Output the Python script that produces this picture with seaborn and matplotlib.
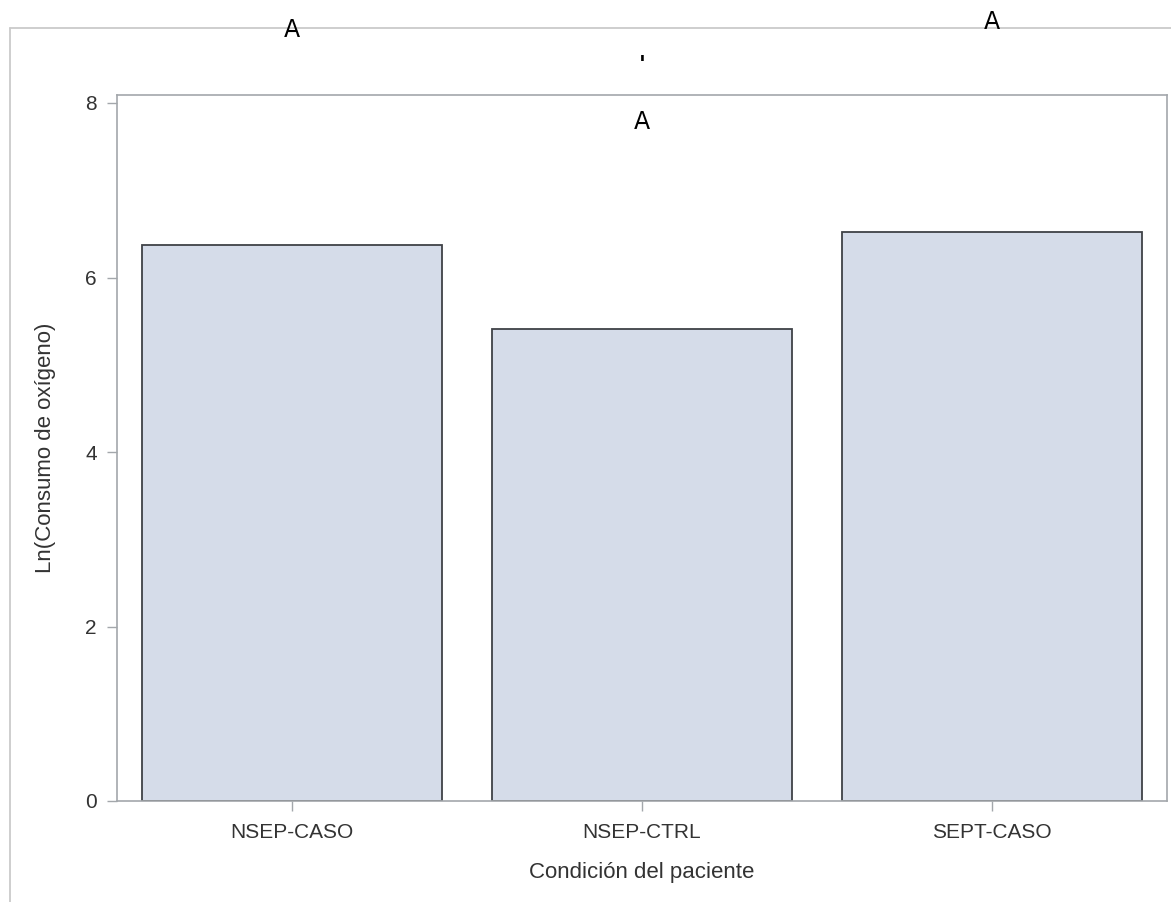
import matplotlib
matplotlib.use("Agg")
import matplotlib.pyplot as plt
from matplotlib.lines import Line2D
import seaborn as sns
import pandas as pd

# Data
condiciones = ["NSEP-CASO", "NSEP-CTRL", "SEPT-CASO"]
ln_consumo = [6.37, 5.41, 6.52]

# group letters placed above the bars
letras = ["A", "A", "A"]
letras_y = [8.84, 7.78, 8.93]
marca_y = 8.44

df = pd.DataFrame({"cond": condiciones, "valor": ln_consumo})

sns.set_style("white")
plt.rcParams["font.family"] = ["Liberation Sans", "DejaVu Sans"]

fig = plt.figure(figsize=(11.71, 9.02), dpi=100)
ax = fig.add_axes([117 / 1171, 1 - 801 / 902, 1050 / 1171, 706 / 902])

sns.barplot(data=df, x="cond", y="valor", ax=ax, color="#d5dce9",
            saturation=1, width=0.857, edgecolor="#3f4247", linewidth=1.3)

ax.set_xlim(-0.5, 2.5)
ax.set_ylim(0, 8 + 8 / 87.25)
ax.set_yticks([0, 2, 4, 6, 8])

spine_col = "#a3a7ab"
for s in ax.spines.values():
    s.set_color(spine_col)
    s.set_linewidth(1.2)

ax.tick_params(axis="both", colors=spine_col, length=7.5, width=1, labelsize=15,
               labelcolor="#333333")
ax.tick_params(axis="y", left=True, pad=7)
ax.tick_params(axis="x", bottom=True, pad=8)

ax.set_xlabel("Condición del paciente", fontsize=16, color="#333333", va="top")
ax.set_ylabel("Ln(Consumo de oxígeno)", fontsize=16, color="#333333")
ax.xaxis.set_label_coords(0.5, -(862 - 801) / 706)
ax.yaxis.set_label_coords((56 - 117) / 1050, 0.5)

# letters over the bars
for i, (t, yv) in enumerate(zip(letras, letras_y)):
    ax.text(i, yv, t, ha="center", va="center", fontsize=17, color="black",
            family="DejaVu Sans", clip_on=False)
ax.text(1, marca_y, "'", ha="center", va="center", fontsize=16, color="black",
        family="DejaVu Sans", fontweight="bold", clip_on=False)

# outer light frame
frame_col = "#cacaca"
fig.add_artist(Line2D([10 / 1171, 10 / 1171], [0, 1 - 28 / 902],
                      transform=fig.transFigure, color=frame_col, linewidth=1.3, zorder=0))
fig.add_artist(Line2D([10 / 1171, 1], [1 - 28 / 902, 1 - 28 / 902],
                      transform=fig.transFigure, color=frame_col, linewidth=1.3, zorder=0))

fig.savefig("out.png", dpi=100)
